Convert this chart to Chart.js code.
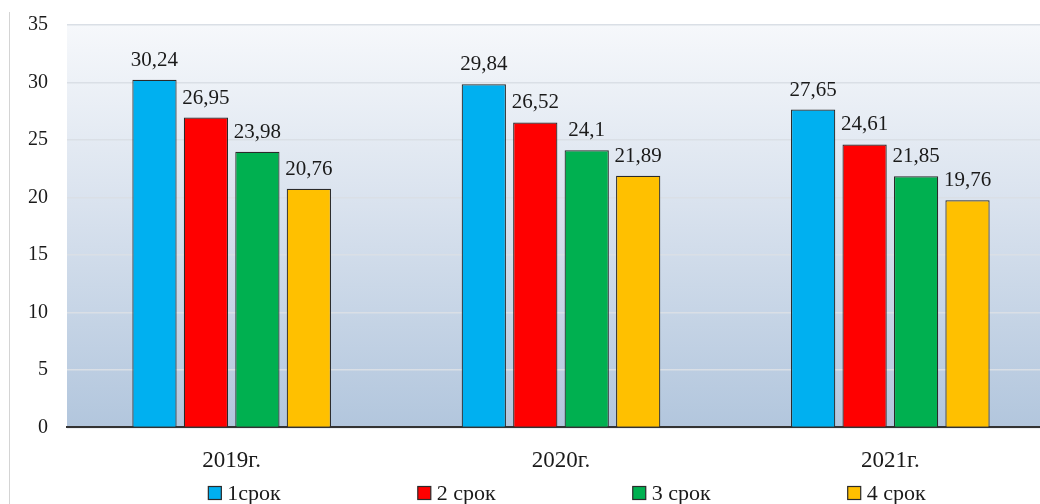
<!DOCTYPE html>
<html>
<head>
<meta charset="utf-8">
<script src="https://cdn.jsdelivr.net/npm/chart.js@4/dist/chart.umd.min.js"></script>
<style>
  html, body { margin: 0; padding: 0; background: #fff; overflow: hidden; }
  #wrap { position: relative; width: 1070px; height: 504px; }
  #frame { position: absolute; left: 9px; top: 12px; height: 492px; border-left: 1px solid #d4d4d4; }
</style>
</head>
<body>
<div id="wrap">
  <div id="frame"></div>
  <canvas id="chart"></canvas>
</div>
<script>
const years = ['2019г.', '2020г.', '2021г.'];
const seriesNames = ['1срок', '2 срок', '3 срок', '4 срок'];
const term1 = [30.24, 29.84, 27.65];
const term2 = [26.95, 26.52, 24.61];
const term3 = [23.98, 24.1, 21.85];
const term4 = [20.76, 21.89, 19.76];
const colors = ['#00b0f0', '#ff0000', '#00b050', '#ffc000'];

const serif = '"Liberation Serif", "Times New Roman", serif';

// gradient fill behind the plot area
const plotBackground = {
  id: 'plotBackground',
  beforeDraw(chart) {
    const { ctx, chartArea: a } = chart;
    if (!a) return;
    const g = ctx.createLinearGradient(0, a.top, 0, a.bottom);
    g.addColorStop(0, '#f6f8fb');
    g.addColorStop(0.45, '#d9e2ee');
    g.addColorStop(1, '#b2c6dd');
    ctx.save();
    ctx.fillStyle = g;
    ctx.fillRect(a.left, a.top, a.right - a.left, a.bottom - a.top);
    ctx.restore();
  }
};

// value labels above each bar, with comma decimals
const valueLabels = {
  id: 'valueLabels',
  afterDatasetsDraw(chart) {
    const ctx = chart.ctx;
    ctx.save();
    ctx.font = '21px ' + serif;
    ctx.fillStyle = '#1a1a1a';
    ctx.textAlign = 'center';
    ctx.textBaseline = 'alphabetic';
    chart.data.datasets.forEach((ds, i) => {
      chart.getDatasetMeta(i).data.forEach((bar, j) => {
        const txt = String(ds.data[j]).replace('.', ',');
        ctx.fillText(txt, bar.x, bar.y - 14);
      });
    });
    ctx.restore();
  }
};

// legend row with wide even gaps (built-in padding also grows the height)
const wideLegend = {
  id: 'wideLegend',
  afterDraw(chart) {
    const { ctx, chartArea: a } = chart;
    const box = 13, gapText = 6, gapItem = 137;
    ctx.save();
    ctx.font = '22px ' + serif;
    const items = chart.data.datasets.map(ds => ({
      ds, w: box + gapText + ctx.measureText(ds.label).width
    }));
    const total = items.reduce((s, it) => s + it.w, 0) + gapItem * (items.length - 1);
    let x = (a.left + a.right) / 2 - total / 2 + 6;
    const y = 493;
    ctx.textBaseline = 'middle';
    items.forEach(it => {
      ctx.fillStyle = it.ds.backgroundColor;
      ctx.fillRect(x, y - box / 2, box, box);
      ctx.strokeStyle = '#2a2a2a';
      ctx.lineWidth = 1.2;
      ctx.strokeRect(x, y - box / 2, box, box);
      ctx.fillStyle = '#1a1a1a';
      ctx.fillText(it.ds.label, x + box + gapText, y + 1);
      x += it.w + gapItem;
    });
    ctx.restore();
  }
};

const seriesData = [term1, term2, term3, term4];

new Chart(document.getElementById('chart'), {
  type: 'bar',
  data: {
    labels: years,
    datasets: seriesNames.map((name, i) => ({
      label: name,
      data: seriesData[i],
      backgroundColor: colors[i],
      borderColor: '#2a2a2a',
      borderWidth: 1.2,
      categoryPercentage: 0.625,
      barPercentage: 0.86
    }))
  },
  options: {
    responsive: true,
    maintainAspectRatio: false,
    animation: false,
    layout: { padding: { top: 25, right: 15, left: 0, bottom: 17 } },
    plugins: {
      legend: { display: false },
      tooltip: { enabled: false }
    },
    scales: {
      x: {
        grid: { display: false },
        border: { display: true, color: '#333', width: 2 },
        ticks: { color: '#1a1a1a', padding: 12, font: { family: serif, size: 23 } }
      },
      y: {
        min: 0,
        max: 35,
        ticks: { stepSize: 5, color: '#1a1a1a', padding: 19, font: { family: serif, size: 20 } },
        grid: { color: '#dadfe6', lineWidth: 1.5, drawTicks: false },
        border: { display: false },
        afterFit(scale) {
          scale.width = 67;
          scale.paddingTop = 0;
          scale.paddingBottom = 0;
        }
      }
    }
  },
  plugins: [plotBackground, valueLabels, wideLegend]
});
</script>
</body>
</html>
